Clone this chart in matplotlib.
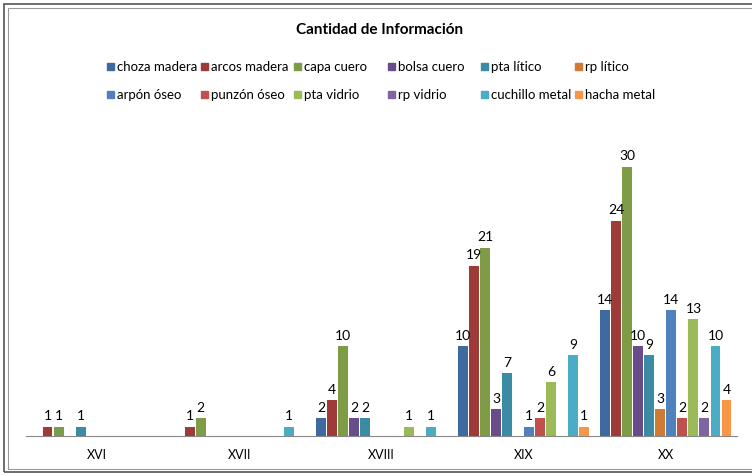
import matplotlib.pyplot as plt
import numpy as np
from matplotlib.patches import Rectangle

plt.rcParams['font.family'] = ['Lato', 'DejaVu Sans']

siglos = ['XVI', 'XVII', 'XVIII', 'XIX', 'XX']
series = ['choza madera', 'arcos madera', 'capa cuero', 'bolsa cuero', 'pta lítico', 'rp lítico',
          'arpón óseo', 'punzón óseo', 'pta vidrio', 'rp vidrio', 'cuchillo metal', 'hacha metal']
choza_madera = [0, 0, 2, 10, 14]
arcos_madera = [1, 1, 4, 19, 24]
capa_cuero = [1, 2, 10, 21, 30]
bolsa_cuero = [0, 0, 2, 3, 10]
pta_litico = [1, 0, 2, 7, 9]
rp_litico = [0, 0, 0, 0, 3]
arpon_oseo = [0, 0, 0, 1, 14]
punzon_oseo = [0, 0, 0, 2, 2]
pta_vidrio = [0, 0, 1, 6, 13]
rp_vidrio = [0, 0, 0, 0, 2]
cuchillo_metal = [0, 1, 1, 9, 10]
hacha_metal = [0, 0, 0, 1, 4]
valores = [choza_madera, arcos_madera, capa_cuero, bolsa_cuero, pta_litico, rp_litico,
           arpon_oseo, punzon_oseo, pta_vidrio, rp_vidrio, cuchillo_metal, hacha_metal]
colores = ['#3E6A9F', '#9E3A37', '#7E9B45', '#694D8A', '#3A8BA3', '#D07A33',
           '#4F81BD', '#C0504D', '#9BBB59', '#8064A2', '#4BACC6', '#F79646']

W, H = 752, 477
fig = plt.figure(figsize=(W / 100, H / 100), dpi=100)
ax = fig.add_axes([26 / W, 1 - 437 / H, (737 - 26) / W, (437 - 123) / H])

x = np.arange(len(siglos))
paso = 0.0775
for i, (nombre, vals, col) in enumerate(zip(series, valores, colores)):
    pos = x + (i - 5.5) * paso
    bars = ax.bar(pos, vals, width=0.07, color=col, label=nombre)
    ax.bar_label(bars, labels=[str(v) if v > 0 else '' for v in vals], padding=4, fontsize=10)

ax.set_xlim(-0.5, 4.5)
ax.set_ylim(0, 35)
ax.set_xticks(x)
ax.set_xticklabels(siglos, fontsize=9)
ax.tick_params(axis='x', length=0, pad=9)
ax.set_yticks([])
for s in ['top', 'left', 'right']:
    ax.spines[s].set_visible(False)
ax.spines['bottom'].set_color('#888888')

fig.text(380 / W, 1 - 30 / H, 'Cantidad de Información', ha='center', va='center',
         fontsize=11, fontweight='bold')

# legend by hand, equal columns like Excel
for i, (nombre, col) in enumerate(zip(series, colores)):
    fila, columna = divmod(i, 6)
    lx = 107 + columna * 93.6
    ly = 67 + fila * 28
    fig.patches.append(Rectangle((lx / W, 1 - (ly + 3.5) / H), 7 / W, 7 / H,
                                 transform=fig.transFigure, color=col))
    fig.text((lx + 10) / W, 1 - ly / H, nombre, ha='left', va='center', fontsize=9.5)

# chart border
fig.patches.append(Rectangle((4 / W, 1 - 473 / H), 800 / W, (473 - 5) / H, transform=fig.transFigure,
                             fill=False, edgecolor='#555555', lw=1.2))
fig.patches.append(Rectangle((7.5 / W, 1 - 470 / H), 800 / W, (470 - 8.5) / H, transform=fig.transFigure,
                             fill=False, edgecolor='#999999', lw=0.8))

fig.savefig('out.png', dpi=100)
